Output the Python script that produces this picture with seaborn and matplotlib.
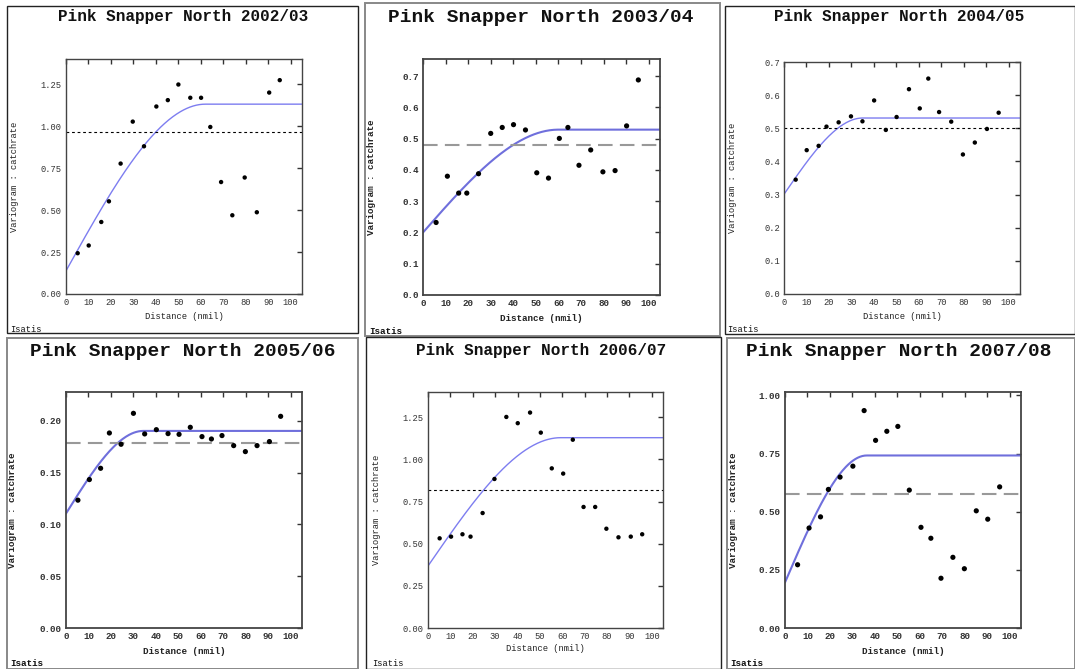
import numpy as np
import pandas as pd
import seaborn as sns
import matplotlib
matplotlib.use("Agg")
import matplotlib.pyplot as plt
from matplotlib.patches import Rectangle

# ---------------- experimental variogram points ----------------
seasons = ["2002/03", "2003/04", "2004/05", "2005/06", "2006/07", "2007/08"]

dist_0203 = [5.2, 10.1, 15.7, 19.1, 24.3, 29.7, 34.7, 40.2, 45.3, 50.0, 55.3, 60.1, 64.2, 69.0, 74.0, 79.5, 84.9, 90.4, 95.1]
gam_0203 = [0.243, 0.289, 0.429, 0.552, 0.777, 1.027, 0.880, 1.117, 1.155, 1.248, 1.169, 1.169, 0.995, 0.667, 0.469, 0.694, 0.487, 1.200, 1.274]

dist_0304 = [5.8, 10.8, 15.8, 19.4, 24.6, 30.0, 35.1, 40.1, 45.4, 50.4, 55.6, 60.4, 64.2, 69.1, 74.3, 79.7, 85.1, 90.2, 95.4]
gam_0304 = [0.232, 0.380, 0.326, 0.326, 0.388, 0.517, 0.536, 0.545, 0.528, 0.391, 0.374, 0.501, 0.536, 0.415, 0.464, 0.394, 0.398, 0.541, 0.688]

dist_0405 = [5.2, 10.1, 15.4, 18.9, 24.3, 29.8, 34.9, 40.1, 45.3, 50.1, 55.6, 60.4, 64.2, 69.0, 74.4, 79.6, 84.9, 90.3, 95.5]
gam_0405 = [0.345, 0.434, 0.447, 0.505, 0.518, 0.536, 0.521, 0.584, 0.495, 0.534, 0.618, 0.560, 0.650, 0.549, 0.520, 0.421, 0.457, 0.498, 0.547]

dist_0506 = [5.3, 10.4, 15.4, 19.3, 24.5, 30.0, 35.0, 40.2, 45.4, 50.3, 55.3, 60.5, 64.7, 69.4, 74.6, 79.8, 85.0, 90.5, 95.5]
gam_0506 = [0.1235, 0.1434, 0.1543, 0.1884, 0.1775, 0.2074, 0.1875, 0.1916, 0.1878, 0.1871, 0.1939, 0.1849, 0.1826, 0.1859, 0.1762, 0.1704, 0.1762, 0.1801, 0.2045]

dist_0607 = [5.2, 10.3, 15.4, 19.0, 24.4, 29.7, 35.0, 40.1, 45.6, 50.4, 55.3, 60.4, 64.7, 69.5, 74.7, 79.7, 85.1, 90.6, 95.7]
gam_0607 = [0.532, 0.542, 0.556, 0.542, 0.682, 0.884, 1.252, 1.215, 1.278, 1.159, 0.947, 0.916, 1.117, 0.718, 0.718, 0.589, 0.538, 0.542, 0.556]

dist_0708 = [5.6, 10.7, 15.8, 19.3, 24.5, 30.2, 35.2, 40.3, 45.3, 50.2, 55.3, 60.5, 64.9, 69.4, 74.7, 79.8, 85.1, 90.2, 95.5]
gam_0708 = [0.272, 0.430, 0.478, 0.596, 0.649, 0.696, 0.935, 0.807, 0.846, 0.867, 0.593, 0.433, 0.386, 0.214, 0.304, 0.255, 0.504, 0.468, 0.607]

# ---------------- fitted spherical models + sample variance ----------------
nugget = [0.138, 0.200, 0.301, 0.1106, 0.368, 0.196]
sill = [1.131, 0.529, 0.531, 0.1904, 1.129, 0.742]
model_range = [62.0, 60.0, 35.0, 34.4, 59.3, 36.4]
variance = [0.965, 0.480, 0.500, 0.1791, 0.821, 0.577]

y_top = [1.4, 0.755, 0.70, 0.228, 1.4, 1.015]
y_ticks = [[0, 0.25, 0.5, 0.75, 1.0, 1.25],
           [0, 0.1, 0.2, 0.3, 0.4, 0.5, 0.6, 0.7],
           [0, 0.1, 0.2, 0.3, 0.4, 0.5, 0.6, 0.7],
           [0, 0.05, 0.10, 0.15, 0.20],
           [0, 0.25, 0.5, 0.75, 1.0, 1.25],
           [0, 0.25, 0.5, 0.75, 1.0]]
y_fmt = ["{:.2f}", "{:.1f}", "{:.1f}", "{:.2f}", "{:.2f}", "{:.2f}"]

all_dist = [dist_0203, dist_0304, dist_0405, dist_0506, dist_0607, dist_0708]
all_gam = [gam_0203, gam_0304, gam_0405, gam_0506, gam_0607, gam_0708]

# ---------------- layout (pixels) ----------------
W, H = 1075, 669
# axes boxes: left, top, right, bottom
ax_box = [(66, 59, 302, 294), (423, 59, 660, 295), (784, 62, 1020, 294),
          (66, 392, 302, 628), (428, 392, 663, 628), (785, 392, 1021, 628)]
panel_box = [(7, 6, 358, 333), (365, 3, 720, 336), (725, 6, 1075, 334),
             (7, 338, 358, 669), (366, 337, 721, 669), (727, 338, 1075, 669)]
title_pos = [(183, 17), (541, 18), (899, 17), (183, 351), (541, 350), (899, 351)]
ylab_x = [19, 376, 737, 17, 381, 738]     # right edge of rotated label
xlab_y = [312, 314, 312, 647, 644, 647]   # top of label
isatis_pos = [(10, 330), (369, 332), (727, 330), (10, 664), (372, 663), (730, 664)]
blurry = [False, True, False, True, False, True]

sns.set_theme(style="white")
plt.rcParams['font.family'] = ['Liberation Mono', 'DejaVu Sans']

fig = plt.figure(figsize=(W / 100, H / 100), dpi=100)
fig.patch.set_facecolor("white")


def fx(x):
    return x / W


def fy(y):
    return 1 - y / H


for i in range(6):
    big = blurry[i]
    l, t, r, b = panel_box[i]
    fig.patches.append(Rectangle((fx(l), fy(b)), fx(r - l), (b - t) / H,
                                 transform=fig.transFigure, fill=False,
                                 edgecolor="#888888" if big else "#222222",
                                 linewidth=1.4 if big else 1.0))

    l, t, r, b = ax_box[i]
    ax = fig.add_axes([fx(l), fy(b), fx(r - l), (b - t) / H])
    ax.set_facecolor("white")

    df = pd.DataFrame({"Distance": all_dist[i], "Gamma": all_gam[i]})
    sns.scatterplot(data=df, x="Distance", y="Gamma", ax=ax, color="black",
                    s=14 if big else 10, marker="o", edgecolor="none", zorder=3)

    h = np.linspace(0, 105, 300)
    rr = np.minimum(h / model_range[i], 1.0)
    g = nugget[i] + (sill[i] - nugget[i]) * (1.5 * rr - 0.5 * rr ** 3)
    sns.lineplot(x=h, y=g, ax=ax, color="#6f6fdc" if big else "#7d7df0",
                 linewidth=1.5 if big else 1.0, estimator=None, sort=False)

    if big:
        ax.axhline(variance[i], color="#999999", linewidth=1.5, dashes=(7, 3.5))
    else:
        ax.axhline(variance[i], color="black", linewidth=0.8, dashes=(2.5, 2.5))

    ax.set_xlim(0, 105)
    ax.set_ylim(0, y_top[i])
    ax.set_xticks(range(0, 101, 10))
    ax.set_yticks(y_ticks[i])
    ax.set_yticklabels([y_fmt[i].format(v) for v in y_ticks[i]])

    fs = 6.7 if big else 6.3
    wt = "bold" if big else "normal"
    ax.tick_params(direction="in", length=3.5, width=1.0, top=True, right=True,
                   labelsize=fs, pad=3, colors="#333333")
    for lab in ax.get_xticklabels() + ax.get_yticklabels():
        lab.set_fontweight(wt)
    for sp in ax.spines.values():
        sp.set_color("#444444")
        sp.set_linewidth(1.3 if big else 1.0)

    ax.set_xlabel("Distance (nmil)", fontsize=fs, fontweight=wt, color="#222222")
    ax.set_ylabel("Variogram : catchrate", fontsize=fs, fontweight=wt, color="#222222")
    ax.xaxis.set_label_coords(0.5, -(xlab_y[i] - b) / (b - t))
    ax.yaxis.set_label_coords(-(l - ylab_x[i]) / (r - l), 0.5)

    tx, ty = title_pos[i]
    fig.text(fx(tx), fy(ty), "Pink Snapper North " + seasons[i],
             ha="center", va="center", fontsize=14 if big else 11.5,
             fontweight="bold", color="#111111")
    ix, iy = isatis_pos[i]
    fig.text(fx(ix), fy(iy), "Isatis", ha="left", va="center",
             fontsize=fs, fontweight=wt, color="#111111")

fig.savefig("out.png", dpi=100, facecolor="white")
